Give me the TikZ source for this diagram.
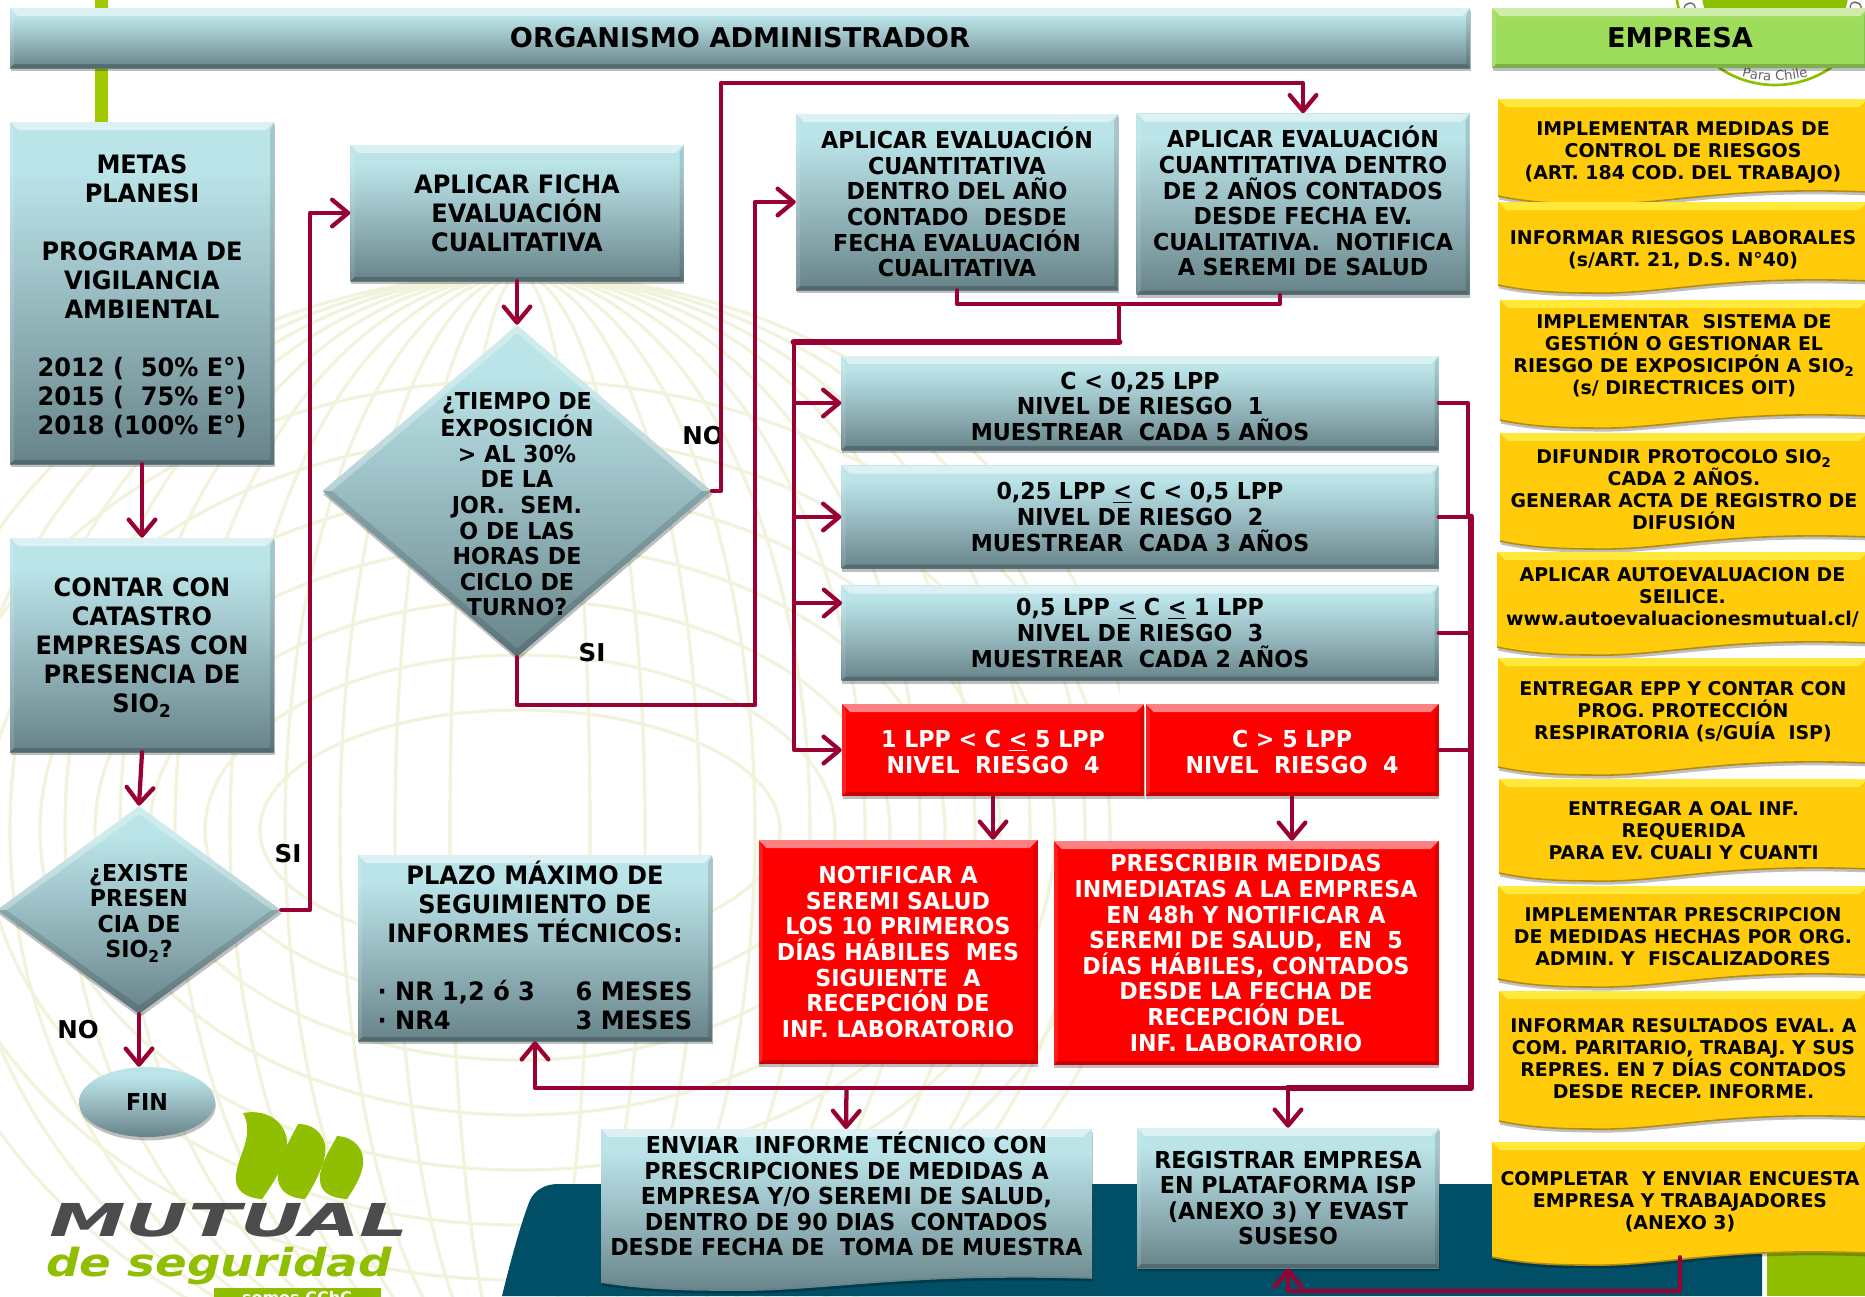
\documentclass[tikz,border=0pt]{standalone}
\usepackage{fontspec}
\usetikzlibrary{arrows.meta,shadows,shapes.geometric,decorations.text}
\setmainfont{DejaVu Sans}
\newfontfamily\tealfont[FakeStretch=0.95]{DejaVu Sans}
\newfontfamily\mutualfont[FakeStretch=1.7]{DejaVu Sans}
\newfontfamily\segurfont[FakeStretch=1.21]{DejaVu Sans}

\definecolor{wine}{HTML}{990033}
\definecolor{tealtop}{HTML}{BAE4E8}
\definecolor{tealmid}{HTML}{A3C8CD}
\definecolor{tealdark}{HTML}{82A2A8}
\definecolor{tealbot}{HTML}{668389}
\definecolor{goldbase}{HTML}{FFCB0A}
\definecolor{goldlight}{HTML}{FFE93A}
\definecolor{golddark}{HTML}{B58C10}
\definecolor{leafgreen}{HTML}{8FBF00}
\definecolor{headgreen}{HTML}{9EDC5C}
\definecolor{barblue}{HTML}{004F66}
\definecolor{patternline}{HTML}{F1F3DC}
\pgfdeclareverticalshading{tealfade}{100bp}{color(0bp)=(tealbot); color(25bp)=(tealbot); color(38bp)=(tealdark); color(55bp)=(tealmid); color(68bp)=(tealtop); color(100bp)=(tealtop)}

\tikzset{
    x=0.75pt, y=-0.75pt,
    boxsize/.style 2 args={minimum width=#1*0.75pt, minimum height=#2*0.75pt, inner sep=0pt},
    softshadow/.style={drop shadow={shadow xshift=.6pt, shadow yshift=-2.6pt, opacity=.25, fill=black}},
    bevel/.style={path picture={
        \fill[white,opacity=.5] (path picture bounding box.north west) -- (path picture bounding box.north east)
            -- ([xshift=-6pt,yshift=-6pt]path picture bounding box.north east) -- ([xshift=6pt,yshift=-6pt]path picture bounding box.north west) -- cycle;
        \fill[white,opacity=.12] (path picture bounding box.north west) -- (path picture bounding box.south west)
            -- ([xshift=3pt,yshift=3pt]path picture bounding box.south west) -- ([xshift=3pt,yshift=-6pt]path picture bounding box.north west) -- cycle;
        \fill[black,opacity=.12] (path picture bounding box.north east) -- (path picture bounding box.south east)
            -- ([xshift=-3pt,yshift=3pt]path picture bounding box.south east) -- ([xshift=-3pt,yshift=-6pt]path picture bounding box.north east) -- cycle;
        \fill[black,opacity=.2] (path picture bounding box.south west) -- (path picture bounding box.south east)
            -- ([xshift=-3pt,yshift=3pt]path picture bounding box.south east) -- ([xshift=3pt,yshift=3pt]path picture bounding box.south west) -- cycle;
    }},
    diamondbevel/.style={path picture={
        \fill[white,opacity=.3] (path picture bounding box.west) -- (path picture bounding box.north) -- (path picture bounding box.east)
            -- ([xshift=-7pt]path picture bounding box.east) -- ([yshift=-6pt]path picture bounding box.north) -- ([xshift=7pt]path picture bounding box.west) -- cycle;
        \fill[black,opacity=.12] (path picture bounding box.west) -- (path picture bounding box.south) -- (path picture bounding box.east)
            -- ([xshift=-7pt]path picture bounding box.east) -- ([yshift=6pt]path picture bounding box.south) -- ([xshift=7pt]path picture bounding box.west) -- cycle;
    }},
    tealbox/.style={rectangle, shading=tealfade, softshadow, bevel, align=center, text=black},
    redbox/.style={rectangle, fill=red, softshadow, bevel, align=center, text=white},
    greenbox/.style={rectangle, fill=headgreen, softshadow, bevel, align=center, text=black},
    tealdiamond/.style={diamond, shading=tealfade, softshadow, diamondbevel, aspect=1},
    bigfont/.style={font=\tealfont\bfseries\fontsize{19}{21.75}\selectfont},
    midfont/.style={font=\tealfont\bfseries\fontsize{17.5}{19.2}\selectfont},
    headfont/.style={font=\bfseries\fontsize{20.4}{23}\selectfont},
    answerfont/.style={font=\bfseries\fontsize{18.4}{22}\selectfont},
    textup/.style={execute at end node={\rule[-#1]{0pt}{0pt}}},
    plainlabel/.style={inner sep=0pt, align=center, text=black},
    goldwave/.style={fill=goldbase, softshadow},
    goldwavetop/.style={fill=goldlight},
    goldwaveedge/.style={draw=golddark, line width=1.2pt},
    goldnote/.style={inner sep=0pt, align=center, font=\bfseries\fontsize{14.2}{16.5}\selectfont},
    tealwave/.style={shading=tealfade, softshadow},
    tealwavetop/.style={fill=white, opacity=.5},
    tealwaveedge/.style={draw=tealbot, line width=1.2pt},
    tealnote/.style={inner sep=0pt, align=center, midfont},
    connector/.style={draw=wine, line width=3.2pt, line join=round, line cap=round},
    thickline/.style={draw=wine, line width=5.2pt, line join=round, line cap=round},
    flowarrow/.style={connector, -{Straight Barb[length=12pt,width=20pt,round]}},
    pictureline/.style={draw=patternline, line width=2.4pt},
}

% x1 y1 x2 y2 give the outline, the text is centred on the seventh argument
\newcommand{\wavenote}[8]{%
    \pgfmathsetmacro{\wavelen}{#4-#2}
    \path[#6wave] (#2,#3) -- (#4,#3) -- (#4,#5-12)
        .. controls (#2+.6*\wavelen,#5-18) and (#2+.45*\wavelen,#5+2) .. (#2+.25*\wavelen,#5)
        .. controls (#2+.12*\wavelen,#5) and (#2+.05*\wavelen,#5-4) .. (#2,#5-8) -- cycle;
    \draw[#6waveedge] (#4,#5-12)
        .. controls (#2+.6*\wavelen,#5-18) and (#2+.45*\wavelen,#5+2) .. (#2+.25*\wavelen,#5)
        .. controls (#2+.12*\wavelen,#5) and (#2+.05*\wavelen,#5-4) .. (#2,#5-8);
    \fill[#6wavetop] (#2,#3) -- (#4,#3) -- (#4-9,#3+8) -- (#2+8,#3+8) -- cycle;
    \node[#6note, minimum height={2*(#5-8-#7)*.75pt}] (#1) at ({(#2+#4)/2},#7) {#8};
}

\begin{document}
\begin{tikzpicture}
    \useasboundingbox (0,0) rectangle (1865,1296);
    \clip (0,0) rectangle (1865,1296);

    % pale globe behind the flow
    \begin{scope}
        \clip (0,275) rectangle (1120,1296);
        \foreach \r in {70,125,...,620}
            \draw[pictureline] (520,830) ellipse ({\r} and 555);
        \foreach \r in {120,175,...,500}
            \draw[pictureline] (520,830) ellipse ({\r+140} and \r);
    \end{scope}

    % things behind the boxes
    \fill[leafgreen!85!yellow] (95,0) rectangle (108,122);
    \fill[barblue] (502,1296) .. controls (512,1255) and (522,1220) .. (530,1200)
        .. controls (535,1190) and (545,1184) .. (558,1184) -- (1762,1184) -- (1762,1296) -- cycle;
    \fill[leafgreen] (1767,1240) rectangle (1865,1296);

    \draw[leafgreen, line width=2pt, fill=white] (1775,-14) circle (99);
    \fill[leafgreen] (1775,-14) circle (74);
    \path[decorate, decoration={text along path, text={Para Chile}, text align=center, text color=black!60},
        font=\fontsize{14}{14}\selectfont]
        (1722,68) .. controls (1752,85) and (1798,85) .. (1828,68);
    \node[text=black!60, font=\fontsize{12}{12}\selectfont, rotate=-70] (sealg) at (1690,8) {G};
    \node[text=black!60, font=\fontsize{12}{12}\selectfont, rotate=70] (sealo) at (1856,8) {O};

    % headers
    \node[tealbox, boxsize={1460}{60}, headfont] (organismo) at (740,38) {ORGANISMO ADMINISTRADOR};
    \node[greenbox, boxsize={376}{60}, headfont] (empresa) at (1680,38) {EMPRESA};

    % left column
    \node[tealbox, boxsize={264}{342}, bigfont, text height=214pt] (metas) at (142,293) {METAS\\PLANESI\\[21.75pt]PROGRAMA DE\\VIGILANCIA\\AMBIENTAL\\[21.75pt]2012 (~~50\% E°)\\2015 (~~75\% E°)\\2018 (100\% E°)};
    \node[tealbox, boxsize={264}{214}, bigfont, text height=105.3pt] (catastro) at (142,645) {CONTAR CON\\CATASTRO\\EMPRESAS CON\\PRESENCIA DE\\SIO\textsubscript{2}};
    \node[tealdiamond, boxsize={284}{208}] (existe) at (139,910) {};
    \node[plainlabel, midfont] (existetext) at (139,913) {¿EXISTE\\PRESEN\\CIA DE\\SIO\textsubscript{2}?};
    \node[ellipse, shading=tealfade, softshadow, boxsize={136}{70}, midfont] (fin) at (147,1102) {FIN};

    % question and evaluations
    \node[tealbox, boxsize={333}{136}, bigfont] (ficha) at (517,213) {APLICAR FICHA\\EVALUACIÓN\\CUALITATIVA};
    \node[tealdiamond, boxsize={389}{332}] (tiempo) at (517,491) {};
    \node[plainlabel, midfont] (tiempotext) at (517,504) {¿TIEMPO DE\\EXPOSICIÓN\\> AL 30\%\\DE LA\\JOR.~ SEM.\\O DE LAS\\HORAS DE\\CICLO DE\\TURNO?};
    \node[tealbox, boxsize={322}{176}, midfont] (evaluno) at (957,202) {APLICAR EVALUACIÓN\\CUANTITATIVA\\DENTRO DEL AÑO\\CONTADO~ DESDE\\FECHA EVALUACIÓN\\CUALITATIVA};
    \node[tealbox, boxsize={333}{181}, midfont, textup=4.4pt] (evaldos) at (1303,204) {APLICAR EVALUACIÓN\\CUANTITATIVA DENTRO\\DE 2 AÑOS CONTADOS\\DESDE FECHA EV.\\CUALITATIVA.~ NOTIFICA\\A SEREMI DE SALUD};

    % risk levels
    \node[tealbox, boxsize={597}{94}, midfont, text height=56.6pt] (nivelone) at (1140,403) {C < 0,25 LPP\\NIVEL DE RIESGO~ 1\\MUESTREAR~ CADA 5 AÑOS};
    \node[tealbox, boxsize={597}{103}, midfont] (niveltwo) at (1140,517) {0,25 LPP \underline{<} C < 0,5 LPP\\NIVEL DE RIESGO~ 2\\MUESTREAR~ CADA 3 AÑOS};
    \node[tealbox, boxsize={597}{95}, midfont] (nivelthree) at (1140,633) {0,5 LPP \underline{<} C \underline{<} 1 LPP\\NIVEL DE RIESGO~ 3\\MUESTREAR~ CADA 2 AÑOS};
    \node[redbox, boxsize={302}{92}, midfont, text height=35.6pt] (nivelfoura) at (993,750) {1 LPP < C \underline{<} 5 LPP\\NIVEL~ RIESGO~ 4};
    \node[redbox, boxsize={293}{92}, midfont, text height=35.6pt] (nivelfourb) at (1292,750) {C > 5 LPP\\NIVEL~ RIESGO~ 4};
    \node[redbox, boxsize={279}{224}, midfont] (notificar) at (898,952) {NOTIFICAR A\\SEREMI SALUD\\LOS 10 PRIMEROS\\DÍAS HÁBILES~ MES\\SIGUIENTE~ A\\RECEPCIÓN DE\\INF. LABORATORIO};
    \node[redbox, boxsize={385}{224}, midfont] (prescribir) at (1246,953) {PRESCRIBIR MEDIDAS\\INMEDIATAS A LA EMPRESA\\EN 48h Y NOTIFICAR A\\SEREMI DE SALUD,~ EN~ 5\\DÍAS HÁBILES, CONTADOS\\DESDE LA FECHA DE\\RECEPCIÓN DEL\\INF. LABORATORIO};
    \node[tealbox, boxsize={354}{186}, bigfont, textup=3.6pt] (plazo) at (535,948) {PLAZO MÁXIMO DE\\SEGUIMIENTO DE\\INFORMES TÉCNICOS:\\[21.75pt]\makebox[236pt]{· NR 1,2 ó 3\hfill 6 MESES}\\\makebox[236pt]{· NR4\hfill 3 MESES}};

    % bottom row
    \wavenote{enviar}{601}{1129}{1092}{1290}{teal}{1194}{ENVIAR~ INFORME TÉCNICO CON\\PRESCRIPCIONES DE MEDIDAS A\\EMPRESA Y/O SEREMI DE SALUD,\\DENTRO DE 90 DIAS~ CONTADOS\\DESDE FECHA DE~ TOMA DE MUESTRA}
    \node[tealbox, boxsize={302}{140}, midfont] (registrar) at (1288,1198) {REGISTRAR EMPRESA\\EN PLATAFORMA ISP\\(ANEXO 3) Y EVAST\\SUSESO};

    % company column
    \wavenote{medidas}{1498}{99}{1868}{204}{gold}{152}{IMPLEMENTAR MEDIDAS DE\\CONTROL DE RIESGOS\\(ART. 184 COD. DEL TRABAJO)}
    \wavenote{informar}{1498}{202}{1868}{293}{gold}{250}{INFORMAR RIESGOS LABORALES\\(s/ART. 21, D.S. N°40)}
    \wavenote{sistema}{1500}{300}{1868}{428}{gold}{356}{IMPLEMENTAR~ SISTEMA DE\\GESTIÓN O GESTIONAR EL\\RIESGO DE EXPOSICIPÓN A SIO\textsubscript{2}\\(s/ DIRECTRICES OIT)}
    \wavenote{difundir}{1500}{433}{1868}{549}{gold}{490}{DIFUNDIR PROTOCOLO SIO\textsubscript{2}\\CADA 2 AÑOS.\\GENERAR ACTA DE REGISTRO DE\\DIFUSIÓN}
    \wavenote{autoeval}{1497}{552}{1868}{655}{gold}{597}{APLICAR AUTOEVALUACION DE\\SEILICE.\\www.autoevaluacionesmutual.cl/}
    \wavenote{entregarepp}{1498}{658}{1868}{775}{gold}{712}{ENTREGAR EPP Y CONTAR CON\\PROG. PROTECCIÓN\\RESPIRATORIA (s/GUÍA~ ISP)}
    \wavenote{entregaroal}{1499}{779}{1868}{881}{gold}{831}{ENTREGAR A OAL INF.\\REQUERIDA\\PARA EV. CUALI Y CUANTI}
    \wavenote{prescripcion}{1498}{886}{1868}{987}{gold}{937}{IMPLEMENTAR PRESCRIPCION\\DE MEDIDAS HECHAS POR ORG.\\ADMIN. Y~ FISCALIZADORES}
    \wavenote{resultados}{1499}{991}{1868}{1129}{gold}{1059}{INFORMAR RESULTADOS EVAL. A\\COM. PARITARIO, TRABAJ. Y SUS\\REPRES. EN 7 DÍAS CONTADOS\\DESDE RECEP. INFORME.}
    \wavenote{completar}{1492}{1142}{1868}{1265}{gold}{1202}{COMPLETAR~ Y ENVIAR ENCUESTA\\EMPRESA Y TRABAJADORES\\(ANEXO 3)}

    % yes and no
    \node[plainlabel, answerfont] (sifin) at (288,854) {SI};
    \node[plainlabel, answerfont] (nofin) at (78,1030) {NO};
    \node[plainlabel, answerfont] (notiempo) at (703,436) {NO};
    \node[plainlabel, answerfont] (sitiempo) at (592,653) {SI};

    % turning points of the connectors
    \coordinate (fichaturn) at (310,500);
    \coordinate (topturn) at (721,83);
    \coordinate (lowturn) at (755,705);
    \coordinate (evalfoot) at (1280,295);
    \coordinate (evaljoin) at (1119,304);
    \coordinate (riskbus) at (794,342);
    \coordinate (threein) at (842,603);
    \coordinate (busturn) at (1471,1088);
    \coordinate (lastturn) at (1500,1291);

    \draw[flowarrow] (metas.south) -- (catastro.north);
    \draw[flowarrow] (catastro.south) -- (existe.north);
    \draw[flowarrow] (existe.south) -- (existe.south |- fin.north);
    \draw[flowarrow] (existe.east) -| (fichaturn) |- (ficha.west);
    \draw[flowarrow] (ficha.south) -- (tiempo.north);
    \draw[flowarrow] (tiempo.east) -| (topturn) -| (evaldos.north);
    \draw[flowarrow] (tiempo.south) |- (lowturn) |- (evaluno.west);

    \draw[connector] (evaluno.south) |- (evaljoin) -| (evalfoot);
    \draw[connector] (evaljoin) |- (riskbus);
    \draw[thickline] (evaljoin |- riskbus) -- (riskbus);
    \draw[flowarrow] (riskbus) |- (nivelfoura.west);
    \draw[flowarrow] (riskbus |- nivelone.west) -- (nivelone.west);
    \draw[flowarrow] (riskbus |- niveltwo.west) -- (niveltwo.west);
    \draw[flowarrow] (riskbus |- threein) -- (threein);

    \draw[connector] (nivelone.east) -| (1468,517);
    \draw[connector] (nivelthree.east) -- (nivelthree.east -| busturn);
    \draw[connector] (nivelfourb.east) -- (nivelfourb.east -| busturn);
    \draw[connector] (niveltwo.east) -- (niveltwo.east -| busturn);
    \draw[thickline] (niveltwo.east -| busturn) -- (busturn) -- (registrar.north |- busturn);
    \draw[flowarrow] (registrar.north |- busturn) -| (plazo.south);
    \draw[flowarrow] (registrar.north |- busturn) -- (registrar.north);
    \draw[flowarrow] (enviar.north |- busturn) -- (846,1129);

    \draw[flowarrow] (nivelfoura.south) -- (nivelfoura.south |- notificar.north);
    \draw[flowarrow] (nivelfourb.south) -- (nivelfourb.south |- prescribir.north);
    \draw[flowarrow] (completar.south) |- (lastturn) -| (registrar.south);

    % logo
    \fill[leafgreen] (243,1113) .. controls (270,1108) and (290,1125) .. (287,1150) .. controls (285,1165) and (272,1185) .. (262,1199)
        .. controls (245,1198) and (234,1190) .. (236,1175) .. controls (238,1155) and (255,1135) .. (243,1113) -- cycle;
    \fill[leafgreen] (298,1124) .. controls (318,1124) and (328,1140) .. (325,1155) .. controls (322,1170) and (313,1187) .. (305,1199)
        .. controls (288,1198) and (277,1190) .. (278,1175) .. controls (280,1155) and (290,1140) .. (298,1124) -- cycle;
    \fill[leafgreen] (337,1136) .. controls (355,1137) and (365,1150) .. (363,1165) .. controls (361,1178) and (353,1190) .. (347,1199)
        .. controls (330,1198) and (318,1192) .. (320,1175) .. controls (322,1160) and (330,1150) .. (337,1136) -- cycle;
    \node[inner sep=0pt, text={black!70!white}, font=\mutualfont\bfseries\itshape\fontsize{34}{34}\selectfont] (mutual) at (229,1220) {MUTUAL};
    \node[inner sep=0pt, text=leafgreen, font=\segurfont\bfseries\itshape\fontsize{29}{29}\selectfont] (seguridad) at (219,1266) {de seguridad};
    \fill[leafgreen] (214,1288) rectangle (381,1300);
    \node[inner sep=0pt, text=white, font=\bfseries\fontsize{12}{12}\selectfont] (somos) at (297,1298) {somos CChC};
\end{tikzpicture}
\end{document}
